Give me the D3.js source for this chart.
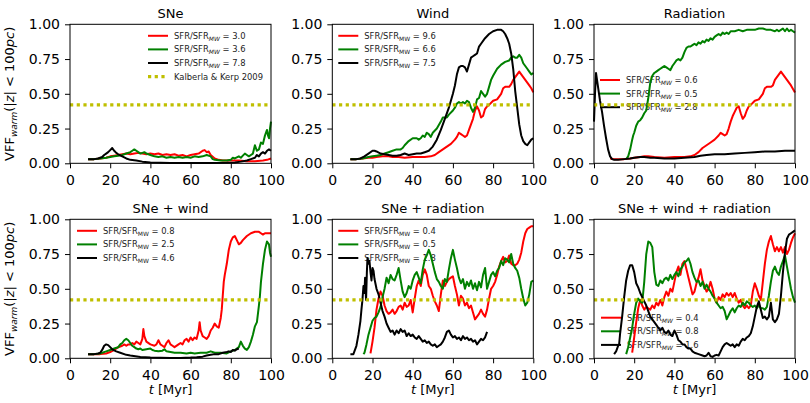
<!DOCTYPE html>
<html>
<head>
<meta charset="utf-8">
<script src="https://cdnjs.cloudflare.com/ajax/libs/d3/7.8.5/d3.min.js"></script>
<style>
  body { margin: 0; background: #fff; }
  svg text { font-family: "DejaVu Sans", sans-serif; }
</style>
</head>
<body>
<div id="chart"></div>
<script>

// ---- data, [t (Myr), VFF] ----
var xTicks = [0, 20, 40, 60, 80, 100];
var yTicks = [0, 0.25, 0.5, 0.75, 1.0];
var kalberlaKerp = 0.42;

var titles = ["SNe", "Wind", "Radiation", "SNe + wind", "SNe + radiation", "SNe + wind + radiation"];

var sfrLabels = [
    ["3.0", "3.6", "7.8"],
    ["9.6", "6.6", "7.5"],
    ["0.6", "0.5", "2.8"],
    ["0.8", "2.5", "4.6"],
    ["0.4", "0.5", "1.8"],
    ["0.4", "0.8", "1.6"]
];

var sne_r = [[9,.03],[12,.03],[15,.035],[18,.04],[20,.05],[22,.055],[24,.06],[26,.065],[28,.07],[30,.065],[32,.07],[34,.075],[36,.07],[38,.065],[40,.07],[42,.065],[44,.07],[46,.06],[48,.065],[50,.06],[52,.065],[54,.055],[56,.06],[58,.05],[60,.06],[62,.065],[64,.07],[66,.09],[67,.095],[68,.08],[69,.085],[70,.06],[72,.035],[74,.025],[76,.02],[80,.02],[84,.02],[88,.015],[92,.015],[96,.02],[98,.025],[100,.035]];
var sne_g = [[9,.03],[12,.03],[15,.035],[18,.04],[20,.045],[22,.05],[24,.055],[26,.06],[28,.07],[30,.08],[31,.09],[32,.1],[33,.09],[34,.08],[35,.07],[36,.075],[37,.08],[38,.07],[40,.06],[42,.05],[44,.045],[46,.05],[48,.04],[50,.045],[52,.04],[54,.045],[56,.04],[58,.045],[60,.04],[62,.05],[64,.045],[66,.05],[68,.06],[70,.05],[71,.03],[72,.025],[75,.02],[78,.02],[80,.025],[81,.04],[82,.035],[84,.05],[85,.04],[86,.055],[87,.07],[88,.06],[89,.05],[90,.06],[91,.07],[92,.13],[93,.09],[94,.1],[95,.15],[96,.14],[97,.2],[98,.24],[98.5,.2],[99,.18],[99.5,.25],[100,.3]];
var sne_k = [[9,.03],[12,.03],[14,.035],[16,.045],[17,.06],[18,.07],[19,.08],[20,.095],[21,.11],[22,.09],[23,.075],[24,.065],[26,.05],[28,.035],[30,.025],[33,.02],[36,.012],[40,.006],[45,.004],[50,.003],[60,.003],[70,.003],[78,.004],[82,.006],[85,.012],[88,.02],[90,.03],[92,.04],[93,.06],[94,.05],[95,.07],[96,.08],[97,.07],[98,.09],[99,.1],[100,.09]];

var wind_r = [[9,.03],[12,.03],[15,.035],[18,.04],[20,.04],[22,.045],[25,.05],[28,.05],[30,.045],[33,.045],[36,.04],[40,.045],[43,.045],[46,.045],[49,.05],[51,.06],[53,.08],[55,.1],[57,.12],[59,.14],[61,.17],[62,.19],[63,.22],[64,.21],[65,.2],[66,.19],[67,.2],[68,.24],[69,.28],[70,.32],[71,.38],[72,.41],[73,.38],[74,.33],[75,.34],[76,.39],[77,.41],[78,.42],[80,.45],[82,.46],[84,.5],[85,.54],[86,.55],[88,.55],[89,.57],[90,.6],[91,.62],[92,.64],[93,.66],[94,.64],[95,.62],[96,.6],[97,.58],[98,.56],[99,.54],[100,.51]];
var wind_g = [[9,.03],[12,.03],[15,.035],[18,.045],[20,.05],[22,.055],[24,.06],[26,.07],[28,.08],[30,.09],[32,.1],[34,.1],[35,.11],[36,.13],[38,.16],[40,.18],[42,.18],[43,.17],[44,.18],[45,.2],[46,.19],[47,.22],[48,.21],[49,.19],[50,.22],[52,.25],[54,.3],[55,.33],[57,.33],[58,.35],[60,.38],[61,.4],[62,.43],[63,.44],[64,.43],[65,.44],[66,.43],[67,.45],[68,.44],[69,.4],[70,.37],[71,.4],[72,.46],[73,.47],[74,.52],[75,.5],[76,.48],[77,.5],[78,.55],[79,.6],[80,.63],[82,.68],[84,.71],[86,.73],[88,.74],[89,.76],[90,.77],[91,.76],[92,.76],[93,.78],[94,.76],[95,.72],[96,.7],[97,.68],[98,.66],[99,.64],[100,.65]];
var wind_k = [[9,.03],[12,.03],[14,.035],[16,.05],[18,.07],[20,.09],[21,.09],[22,.085],[24,.07],[26,.065],[28,.06],[30,.055],[32,.055],[34,.06],[36,.07],[38,.06],[40,.065],[42,.07],[44,.07],[46,.08],[48,.09],[50,.12],[52,.17],[54,.24],[56,.32],[58,.4],[60,.5],[61,.56],[62,.64],[63,.69],[64,.7],[65,.7],[66,.69],[67,.66],[68,.71],[69,.76],[70,.77],[71,.78],[72,.79],[73,.84],[74,.86],[76,.9],[78,.93],[80,.95],[82,.96],[84,.96],[85,.95],[86,.93],[87,.9],[88,.86],[89,.79],[90,.68],[91,.52],[92,.4],[93,.28],[94,.2],[95,.16],[96,.14],[97,.13],[98,.15],[99,.17],[100,.18]];

var rad_r = [[8,.035],[10,.03],[15,.03],[18,.035],[20,.04],[23,.045],[25,.05],[27,.05],[30,.045],[35,.04],[40,.045],[45,.045],[48,.05],[50,.06],[52,.08],[54,.11],[56,.13],[58,.15],[60,.17],[62,.2],[63,.22],[64,.21],[65,.2],[66,.21],[67,.25],[68,.3],[69,.34],[70,.37],[71,.4],[72,.41],[73,.36],[74,.32],[75,.34],[76,.38],[77,.41],[78,.42],[80,.45],[82,.46],[84,.5],[85,.54],[86,.55],[88,.55],[89,.56],[90,.6],[92,.64],[93,.66],[94,.64],[96,.6],[98,.56],[100,.51]];
var rad_g = [[16,.03],[17,.05],[18,.1],[19,.17],[19.5,.2],[20,.22],[21,.27],[22,.3],[23,.31],[24,.33],[25,.36],[26,.38],[27,.47],[28,.58],[29,.63],[30,.65],[31,.66],[32,.67],[33,.68],[34,.69],[35,.7],[36,.69],[37,.68],[38,.67],[39,.7],[40,.72],[41,.74],[42,.75],[43,.74],[44,.76],[45,.8],[46,.83],[47,.84],[48,.84],[49,.85],[50,.86],[51,.85],[52,.87],[53,.86],[54,.88],[55,.87],[56,.89],[57,.88],[58,.9],[59,.89],[60,.91],[61,.92],[62,.93],[63,.92],[64,.94],[65,.93],[66,.94],[67,.93],[68,.95],[70,.95],[72,.96],[74,.95],[76,.96],[78,.96],[80,.96],[82,.97],[84,.97],[86,.96],[88,.96],[90,.95],[91,.96],[92,.95],[93,.96],[94,.97],[95,.95],[96,.97],[97,.95],[98,.96],[99,.95],[100,.94]];
var rad_k = [[0,.3],[0.5,.5],[1,.65],[1.5,.6],[2,.55],[3,.45],[4,.37],[5,.27],[6,.18],[7,.1],[8,.05],[9,.03],[10,.025],[12,.025],[15,.03],[18,.035],[20,.04],[23,.045],[25,.045],[28,.04],[30,.04],[35,.035],[40,.035],[45,.04],[50,.045],[53,.055],[56,.06],[60,.065],[65,.065],[70,.07],[75,.075],[80,.08],[85,.085],[90,.085],[95,.09],[100,.09]];

var sw_r = [[9,.03],[12,.03],[15,.03],[18,.035],[20,.045],[22,.06],[24,.08],[26,.09],[27,.1],[28,.09],[29,.1],[30,.1],[31,.11],[32,.1],[33,.12],[34,.11],[35,.1],[36,.14],[36.5,.21],[37,.16],[38,.12],[40,.1],[42,.09],[43,.1],[44,.13],[45,.1],[46,.09],[47,.08],[48,.11],[49,.13],[50,.1],[51,.09],[52,.08],[54,.1],[55,.11],[56,.1],[57,.13],[58,.14],[59,.12],[60,.15],[61,.13],[62,.15],[63,.14],[64,.2],[64.5,.26],[65,.2],[66,.16],[67,.15],[68,.14],[69,.16],[70,.2],[71,.22],[72,.25],[73,.23],[74,.22],[75,.29],[75.5,.35],[76,.45],[76.5,.55],[77,.6],[78,.68],[79,.78],[80,.84],[81,.87],[82,.88],[83,.85],[84,.82],[85,.83],[86,.85],[88,.88],[90,.9],[92,.91],[94,.91],[95,.9],[96,.89],[97,.9],[98,.9],[100,.9]];
var sw_g = [[9,.03],[12,.03],[15,.035],[18,.05],[20,.06],[22,.07],[24,.08],[25,.1],[26,.11],[27,.13],[28,.14],[29,.13],[30,.11],[31,.09],[32,.08],[33,.07],[34,.065],[35,.07],[36,.06],[38,.065],[40,.07],[41,.06],[42,.055],[44,.05],[46,.055],[47,.065],[48,.05],[50,.045],[52,.04],[55,.04],[58,.035],[60,.04],[62,.035],[65,.04],[68,.04],[70,.05],[72,.04],[75,.04],[78,.035],[80,.05],[82,.06],[83,.07],[84,.08],[85,.12],[86,.09],[87,.07],[88,.06],[89,.08],[90,.12],[91,.17],[92,.23],[93,.26],[94,.38],[94.5,.45],[95,.55],[96,.68],[97,.78],[98,.84],[99,.82],[99.5,.76],[100,.73]];
var sw_k = [[9,.03],[12,.03],[14,.035],[15,.04],[16,.06],[17,.09],[18,.1],[19,.095],[20,.08],[21,.065],[23,.05],[25,.04],[28,.025],[30,.02],[35,.01],[40,.006],[45,.004],[50,.003],[55,.003],[60,.005],[63,.008],[66,.012],[68,.02],[70,.025],[72,.03],[74,.03],[76,.04],[78,.045],[79,.05],[80,.045],[81,.06],[82,.055],[83,.065],[84,.07]];

var sr_r = [[19,.035],[20,.12],[21,.22],[22,.35],[23,.43],[24,.48],[25,.45],[26,.38],[27,.34],[28,.32],[29,.33],[30,.35],[31,.32],[32,.34],[33,.37],[34,.38],[35,.35],[36,.4],[37,.37],[38,.38],[39,.42],[40,.33],[41,.43],[42,.52],[43,.56],[44,.52],[45,.6],[46,.64],[47,.6],[48,.52],[49,.5],[50,.45],[51,.41],[52,.38],[53,.34],[54,.46],[55,.56],[56,.52],[57,.55],[58,.57],[59,.58],[60,.59],[61,.52],[62,.46],[63,.38],[64,.45],[65,.43],[66,.38],[67,.4],[68,.36],[69,.38],[70,.33],[71,.28],[72,.3],[73,.32],[74,.35],[75,.32],[76,.3],[77,.35],[78,.43],[79,.5],[80,.52],[81,.55],[82,.6],[83,.66],[84,.7],[85,.73],[86,.69],[87,.7],[88,.74],[89,.68],[90,.67],[91,.67],[92,.68],[93,.71],[94,.76],[95,.84],[96,.9],[97,.93],[98,.94],[99,.95],[100,.95]];
var sr_g = [[15.5,.03],[16,.04],[17,.1],[18,.17],[19,.22],[20,.27],[21,.29],[22,.3],[23,.33],[24,.37],[25,.44],[26,.5],[27,.58],[28,.54],[29,.6],[30,.57],[31,.56],[32,.6],[33,.65],[34,.56],[35,.48],[36,.44],[37,.47],[38,.52],[39,.5],[40,.56],[41,.6],[42,.62],[43,.58],[44,.54],[45,.64],[46,.71],[47,.74],[48,.78],[49,.74],[50,.68],[51,.62],[52,.57],[53,.55],[54,.52],[55,.5],[56,.57],[57,.55],[58,.64],[59,.72],[60,.78],[61,.71],[62,.65],[63,.58],[64,.54],[65,.57],[66,.5],[67,.55],[68,.52],[69,.56],[70,.5],[71,.54],[72,.49],[73,.55],[74,.51],[75,.6],[76,.65],[77,.5],[78,.55],[79,.6],[80,.62],[81,.59],[82,.63],[83,.65],[84,.7],[85,.67],[86,.72],[87,.71],[88,.69],[89,.75],[90,.68],[91,.65],[92,.63],[93,.58],[94,.5],[95,.43],[96,.38],[97,.4],[98,.46],[99,.55],[100,.56]];
var sr_k = [[9,.03],[10.5,.03],[11,.05],[12,.09],[13,.17],[14,.27],[14.5,.35],[15,.42],[15.5,.52],[16,.47],[16.3,.58],[16.8,.42],[17.2,.62],[17.5,.72],[18,.68],[18.5,.7],[19,.62],[19.5,.56],[20,.65],[20.5,.63],[21,.57],[22,.5],[23,.46],[24,.4],[25,.34],[26,.3],[27,.25],[28,.22],[29,.19],[30,.2],[31,.17],[32,.2],[33,.18],[34,.21],[35,.19],[36,.2],[37,.16],[38,.18],[39,.16],[40,.17],[41,.15],[42,.14],[43,.16],[44,.14],[45,.12],[46,.13],[47,.11],[48,.12],[49,.1],[50,.09],[51,.1],[52,.08],[53,.09],[54,.1],[55,.12],[56,.15],[57,.19],[58,.2],[59,.17],[60,.15],[61,.16],[62,.14],[63,.15],[64,.13],[65,.16],[66,.14],[67,.15],[68,.13],[69,.14],[70,.12],[71,.13],[72,.1],[73,.12],[74,.14],[75,.13],[76,.15],[77,.19]];

var swr_r = [[19,.04],[20,.15],[21,.26],[22,.36],[23,.42],[24,.38],[25,.35],[26,.37],[27,.36],[28,.35],[29,.38],[30,.36],[31,.4],[32,.38],[33,.42],[34,.38],[35,.44],[36,.48],[37,.45],[38,.5],[39,.48],[40,.55],[41,.62],[42,.66],[43,.6],[44,.68],[45,.7],[46,.64],[47,.58],[48,.52],[49,.46],[50,.48],[51,.54],[52,.58],[53,.64],[54,.56],[55,.52],[56,.48],[57,.5],[58,.55],[59,.5],[60,.43],[61,.4],[62,.44],[63,.42],[64,.46],[65,.44],[66,.47],[67,.45],[68,.47],[69,.44],[70,.47],[71,.43],[72,.4],[73,.42],[74,.38],[75,.36],[76,.38],[77,.36],[78,.38],[79,.48],[80,.54],[81,.5],[82,.45],[83,.42],[84,.55],[85,.68],[86,.78],[87,.84],[88,.88],[89,.82],[90,.77],[91,.8],[92,.77],[93,.8],[94,.76],[95,.8],[96,.75],[97,.78],[98,.83],[99,.87],[100,.9]];
var swr_g = [[16,.03],[17,.08],[18,.15],[19,.22],[20,.32],[21,.4],[22,.43],[23,.41],[24,.4],[25,.55],[26,.75],[27,.84],[28,.83],[29,.8],[30,.62],[31,.53],[32,.52],[33,.56],[34,.54],[35,.57],[36,.58],[37,.56],[38,.6],[39,.57],[40,.6],[41,.62],[42,.59],[43,.64],[44,.66],[45,.69],[46,.7],[47,.72],[48,.68],[49,.62],[50,.58],[51,.55],[52,.56],[53,.52],[54,.55],[55,.5],[56,.53],[57,.5],[58,.48],[59,.45],[60,.43],[61,.4],[62,.38],[63,.36],[64,.37],[65,.34],[66,.28],[67,.31],[68,.34],[69,.36],[70,.33],[71,.36],[72,.38],[73,.37],[74,.4],[75,.38],[76,.41],[77,.4],[78,.38],[79,.37],[80,.38],[81,.36],[82,.38],[83,.36],[84,.36],[85,.35],[86,.37],[87,.45],[88,.55],[89,.63],[90,.66],[91,.62],[92,.6],[93,.66],[94,.7],[95,.74],[96,.66],[97,.58],[98,.5],[99,.44],[100,.4]];
var swr_k = [[10,.03],[11,.05],[12,.09],[12.5,.1],[13,.18],[14,.3],[15,.44],[16,.56],[17,.63],[18,.67],[19,.67],[20,.62],[21,.54],[22,.51],[23,.47],[24,.44],[25,.41],[26,.38],[27,.34],[28,.3],[29,.28],[30,.26],[31,.24],[32,.22],[33,.2],[34,.22],[35,.19],[36,.18],[37,.2],[38,.17],[39,.16],[40,.2],[41,.17],[42,.13],[43,.12],[44,.1],[45,.1],[46,.08],[47,.07],[48,.07],[49,.05],[50,.04],[52,.03],[54,.02],[55,.015],[56,.02],[57,.04],[58,.015],[59,.01],[60,.02],[61,.025],[62,.02],[63,.05],[64,.08],[65,.1],[66,.11],[67,.1],[68,.09],[69,.1],[70,.08],[71,.1],[72,.09],[73,.12],[74,.14],[75,.13],[76,.15],[77,.16],[78,.18],[79,.23],[80,.3],[81,.37],[82,.41],[83,.35],[84,.29],[85,.3],[86,.28],[87,.3],[88,.4],[89,.28],[90,.26],[91,.28],[92,.32],[93,.45],[94,.62],[95,.76],[96,.86],[97,.89],[98,.9],[99,.91],[100,.92]];

var allSeries = [
    [sne_r, sne_g, sne_k],
    [wind_r, wind_g, wind_k],
    [rad_r, rad_g, rad_k],
    [sw_r, sw_g, sw_k],
    [sr_r, sr_g, sr_k],
    [swr_r, swr_g, swr_k]
];

var colors = ["#ff0000", "#008000", "#000000"];
var kkColor = "#bfbf00";

// ---- layout ----
var W = 810, H = 403;
var colX = [70, 332.3, 594];
var rowY = [24.3, 219.3];
var pw = 201, ph = 139;

// legend anchor (relative to panel) and whether MW is italic
var legendPos = [
    {x: 78, y: 11.5, it: true},
    {x: 6, y: 11.5, it: false},
    {x: 6, y: 55.7, it: true},
    {x: 7, y: 11.5, it: false},
    {x: 6, y: 11.5, it: false},
    {x: 7, y: 98.4, it: true}
];

var svg = d3.select("#chart").append("svg")
    .attr("width", W)
    .attr("height", H);

var x = d3.scaleLinear().domain([0, 100]).range([0, pw]);
var y = d3.scaleLinear().domain([0, 1]).range([ph, 0]);

var line = d3.line()
    .x(function(d) { return x(d[0]); })
    .y(function(d) { return y(d[1]); });

titles.forEach(function(title, i) {
    var col = i % 3, row = Math.floor(i / 3);
    var g = svg.append("g")
        .attr("transform", "translate(" + colX[col] + "," + rowY[row] + ")");

    // axes
    var xAxis = g.append("g")
        .attr("transform", "translate(0," + ph + ")")
        .call(d3.axisBottom(x).tickValues(xTicks).tickFormat(d3.format("d")).tickSize(5).tickPadding(6.5));
    var yAxis = g.append("g")
        .call(d3.axisLeft(y).tickValues(yTicks).tickFormat(d3.format(".2f")).tickSize(5).tickPadding(5));

    [xAxis, yAxis].forEach(function(a) {
        a.select(".domain").remove();
        a.selectAll("text").attr("fill", "#000").style("font-size", "14px");
        a.selectAll("line").attr("stroke", "#000");
    });

    g.append("text")
        .attr("x", pw / 2)
        .attr("y", -6.5)
        .attr("text-anchor", "middle")
        .style("font-size", "13px")
        .text(title);

    // legend (drawn beneath lines)
    var lp = legendPos[i];
    var entries = sfrLabels[i].map(function(v, j) { return {c: colors[j], v: v}; });
    var lg = g.append("g").attr("transform", "translate(" + lp.x + "," + lp.y + ")");
    entries.forEach(function(e, j) {
        var yy = j * 13.6;
        lg.append("line")
            .attr("x1", 0).attr("x2", 20)
            .attr("y1", yy).attr("y2", yy)
            .attr("stroke", e.c).attr("stroke-width", 2);
        var t = lg.append("text")
            .attr("x", 26).attr("y", yy + 3)
            .style("font-size", "8.4px")
            .attr("fill", "#222");
        t.append("tspan").text("SFR/SFR");
        t.append("tspan").attr("dy", 2).style("font-size", "6px")
            .style("font-style", lp.it ? "italic" : "normal").text("MW");
        t.append("tspan").attr("dy", -2).text(" = " + e.v);
    });
    if (i === 0) {
        var yy = 3 * 13.6;
        lg.append("line")
            .attr("x1", 0).attr("x2", 20)
            .attr("y1", yy).attr("y2", yy)
            .attr("stroke", kkColor).attr("stroke-width", 3.2)
            .attr("stroke-dasharray", "3.2,3.5");
        lg.append("text")
            .attr("x", 26).attr("y", yy + 3)
            .style("font-size", "8.4px")
            .attr("fill", "#222")
            .text("Kalberla & Kerp 2009");
    }

    // curves
    allSeries[i].forEach(function(s, j) {
        g.append("path")
            .datum(s)
            .attr("fill", "none")
            .attr("stroke", colors[j])
            .attr("stroke-width", 2)
            .attr("stroke-linejoin", "round")
            .attr("d", line);
    });

    g.append("line")
        .attr("x1", x(0)).attr("x2", x(100))
        .attr("y1", y(kalberlaKerp)).attr("y2", y(kalberlaKerp))
        .attr("stroke", kkColor)
        .attr("stroke-width", 3.2)
        .attr("stroke-dasharray", "3.2,3.5");

    g.append("rect")
        .attr("width", pw).attr("height", ph)
        .attr("fill", "none")
        .attr("stroke", "#000")
        .attr("stroke-width", 1);

    if (col === 0) {
        var yl = svg.append("text")
            .attr("transform", "translate(14," + (rowY[row] + ph / 2) + ") rotate(-90)")
            .attr("text-anchor", "middle")
            .style("font-size", "13px");
        yl.append("tspan").text("VFF");
        yl.append("tspan").attr("dy", 2.5).style("font-size", "9px").style("font-style", "italic").text("warm");
        yl.append("tspan").attr("dy", -2.5).text("(|");
        yl.append("tspan").style("font-style", "italic").text("z");
        yl.append("tspan").text("| < 100");
        yl.append("tspan").style("font-style", "italic").text("pc");
        yl.append("tspan").text(")");
    }
    if (row === 1) {
        var xl = g.append("text")
            .attr("x", pw / 2)
            .attr("y", ph + 36)
            .attr("text-anchor", "middle")
            .style("font-size", "13px");
        xl.append("tspan").style("font-style", "italic").text("t");
        xl.append("tspan").text(" [Myr]");
    }
});

</script>
</body>
</html>
